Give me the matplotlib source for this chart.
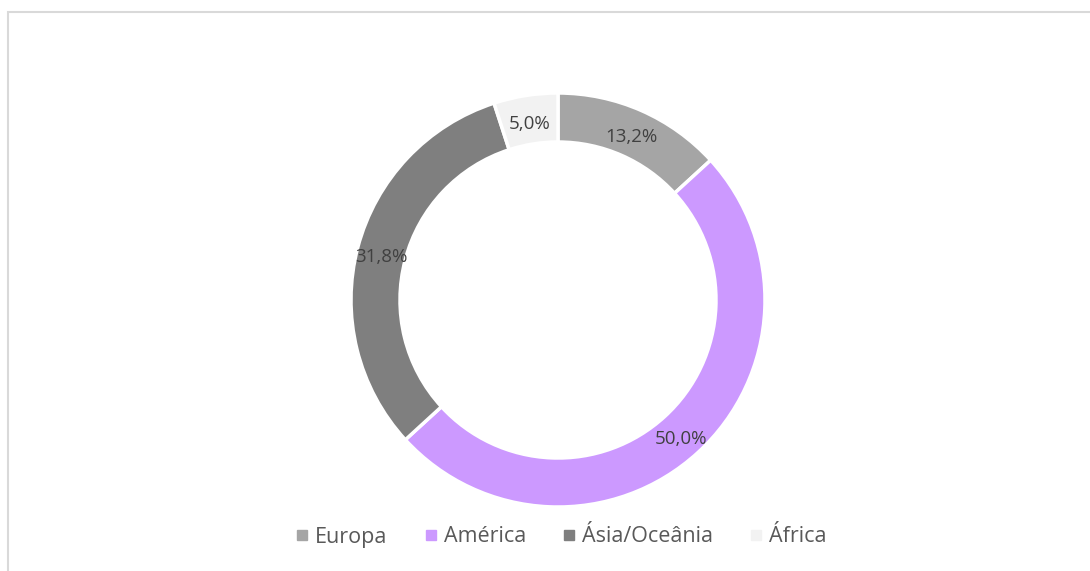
import matplotlib
matplotlib.use("Agg")
import matplotlib.pyplot as plt
from matplotlib.patches import Rectangle
from matplotlib.lines import Line2D
import numpy as np

categories = ["Europa", "América", "Ásia/Oceânia", "África"]
values = [13.2, 50.0, 31.8, 5.0]
labels = ["13,2%", "50,0%", "31,8%", "5,0%"]
colors = ["#a5a5a5", "#cc99ff", "#7f7f7f", "#f2f2f2"]

plt.rcParams['font.family'] = ['Open Sans', 'DejaVu Sans']
W, H = 1090, 571
fig = plt.figure(figsize=(W/100, H/100), dpi=100)

# border
fig.patches.append(Rectangle((7.5/W, -0.1), 1.2, 1 - 11.5/H + 0.1, transform=fig.transFigure,
                             fill=False, edgecolor="#d9d9d9", linewidth=1.5))

cx, cy, R = 558, 300, 207
ax = fig.add_axes([(cx - R)/W, (H - cy - R)/H, 2*R/W, 2*R/H])
wedges, texts = ax.pie(values, colors=colors, startangle=90, counterclock=False,
                       radius=1.0,
                       wedgeprops=dict(width=49/207, edgecolor="white", linewidth=2.5))
theta = 90.0
for w, lab, v in zip(wedges, labels, values):
    mid = theta - v/100*360/2
    theta -= v/100*360
    r = 0.882
    ax.text(r*np.cos(np.radians(mid)), r*np.sin(np.radians(mid)) - 4/207, lab,
            ha="center", va="center", fontsize=13.5, color="#404040")
ax.set_xlim(-1, 1)
ax.set_ylim(-1, 1)
ax.set_aspect("equal")
ax.axis("off")

handles = [Line2D([], [], marker="s", linestyle="none", markersize=7,
                  markerfacecolor=c, markeredgecolor=c) for c in colors]
fig.legend(handles, categories, loc="center", bbox_to_anchor=(cx/W + 2/W, 1 - 537/H),
           ncol=4, frameon=False, fontsize=15.5, labelcolor="#595959",
           handletextpad=0.2, columnspacing=1.6, handlelength=0.8)

fig.savefig("out.png", dpi=100)
